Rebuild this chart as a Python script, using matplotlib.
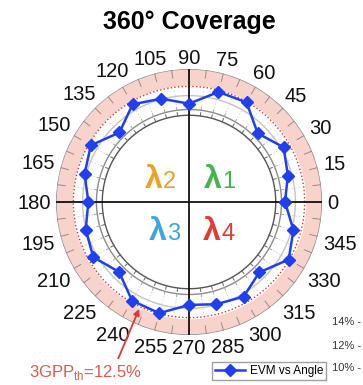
import matplotlib.pyplot as plt
import numpy as np

plt.rcParams['font.family'] = ['Liberation Sans', 'DejaVu Sans']
plt.rcParams['mathtext.fontset'] = 'custom'
plt.rcParams['mathtext.rm'] = 'Liberation Sans'

# EVM measured every 15 degrees around the receiver
angles = [0, 15, 30, 45, 60, 75, 90, 105, 120, 135, 150, 165,
          180, 195, 210, 225, 240, 255, 270, 285, 300, 315, 330, 345]
evm = [10.8, 11.35, 11.95, 10.9, 12.45, 12.35, 11.0, 11.75, 12.25, 11.0, 12.3, 11.85,
       11.2, 11.75, 12.05, 11.05, 12.35, 12.45, 11.4, 11.65, 11.95, 11.1, 12.45, 11.85]
angle_labels = [str(a) for a in angles]

threshold = 12.5          # 3GPP EVM limit
r_min, r_max = 2.5, 14.0
band_low = 12.6           # start of the shaded region
grid_circles = [10.0, 10.5, 11.7]
grid_colors = ['#555555', '#8c8c8c', '#c4c4c4']
side_ticks = ['14% -', '12% -', '10% -']

W, H = 363, 385
cx, cy, R = 189, 202, 133

fig = plt.figure(figsize=(W / 100, H / 100), dpi=100)
ax = fig.add_axes([(cx - R) / W, (H - cy - R) / H, 2 * R / W, 2 * R / H],
                  projection='polar')
ax.set_ylim(r_min, r_max)
ax.set_axis_off()

t = np.linspace(0, 2 * np.pi, 400)

# shaded band above the threshold
ax.fill_between(t, band_low, r_max, color='#f8d3cc', lw=0, zorder=1)
ax.plot(t, np.full_like(t, r_max), color='#8a8a8a', lw=1.0, zorder=2)
ax.plot(t, np.full_like(t, threshold), color='#e0302a', lw=1.0,
        ls=(0, (1, 1.6)), zorder=3)

for rc, col in zip(grid_circles, grid_colors):
    ax.plot(t, np.full_like(t, rc), color=col, lw=1.0, zorder=2)

# small ticks on the rings
for a in np.deg2rad(np.arange(0, 360, 7.5)):
    ax.plot([a, a], [13.3, r_max], color='#9a8a88', lw=0.7, zorder=2)
    ax.plot([a, a], [10.0, 10.3], color='#666666', lw=0.7, zorder=2)
    ax.plot([a, a], [10.5, 10.75], color='#999999', lw=0.6, zorder=2)
    ax.plot([a, a], [10.9, 12.3], color='#d5d5d5', lw=0.6, ls=(0, (2, 2)), zorder=2)

# cross through the centre
for a in [0, 90, 180, 270]:
    ax.plot([np.deg2rad(a)] * 2, [r_min, r_max], color='#111111', lw=1.3, zorder=4)

th = np.deg2rad(angles + [angles[0]])
ax.plot(th, evm + [evm[0]], color='#1f3ff0', lw=1.8, marker='D', ms=6,
        mfc='#1f3ff0', mec='#1f3ff0', zorder=5, label='EVM vs Angle')

# angle labels outside the ring
fs = 14.5
px = fs * 100 / 72
for a, lbl in zip(angles, angle_labels):
    ar = np.deg2rad(a)
    w = 0.556 * px * len(lbl)
    h = 0.716 * px
    d = 5 + 0.5 * w * abs(np.cos(ar)) + 0.5 * h * abs(np.sin(ar))
    ax.annotate(lbl, xy=(ar, r_max),
                xytext=(d * np.cos(ar) * 0.72, (d * np.sin(ar) - 0.5 * h) * 0.72),
                textcoords='offset points', ha='center', va='baseline',
                fontsize=fs, color='#111111', annotation_clip=False)

fig.text(cx / W, 1 - 29 / H, '360° Coverage', ha='center', va='baseline',
         fontsize=18, fontweight='bold')

# wavelength labels in each quadrant
lams = [('1', '#43b549', 222, 188), ('2', '#eba224', 163, 188),
        ('3', '#3da6e2', 167, 240), ('4', '#e8392f', 221, 240)]
for sub, col, x, y in lams:
    fig.text(x / W, 1 - y / H, 'λ', ha='right', va='baseline', fontsize=23,
             fontweight='bold', color=col)
    fig.text(x / W, 1 - y / H, sub, ha='left', va='baseline', fontsize=17,
             color=col)

ax.annotate(r'3GPP$_{\mathrm{th}}$=12.5%', xy=(np.deg2rad(245), 12.7),
            xytext=(86 / W, 1 - 372 / H), textcoords='figure fraction',
            ha='center', va='center', fontsize=12, color='#e05a50',
            annotation_clip=False,
            arrowprops=dict(arrowstyle='-|>', color='#e03a30', lw=1.3,
                            relpos=(0.77, 1.0), shrinkA=1, shrinkB=0,
                            mutation_scale=9))

for lbl, y in zip(side_ticks, [322, 346, 368]):
    fig.text(332 / W, 1 - y / H, lbl, ha='left', va='center', fontsize=8,
             color='#333333')

ax.legend(loc='center', bbox_to_anchor=(269 / W, 1 - 371 / H),
          bbox_transform=fig.transFigure, fontsize=8.5, frameon=True,
          fancybox=False, edgecolor='#888888', borderpad=0.25,
          handlelength=2.6, handletextpad=0.4, borderaxespad=0)

fig.savefig('out.png', dpi=100)
